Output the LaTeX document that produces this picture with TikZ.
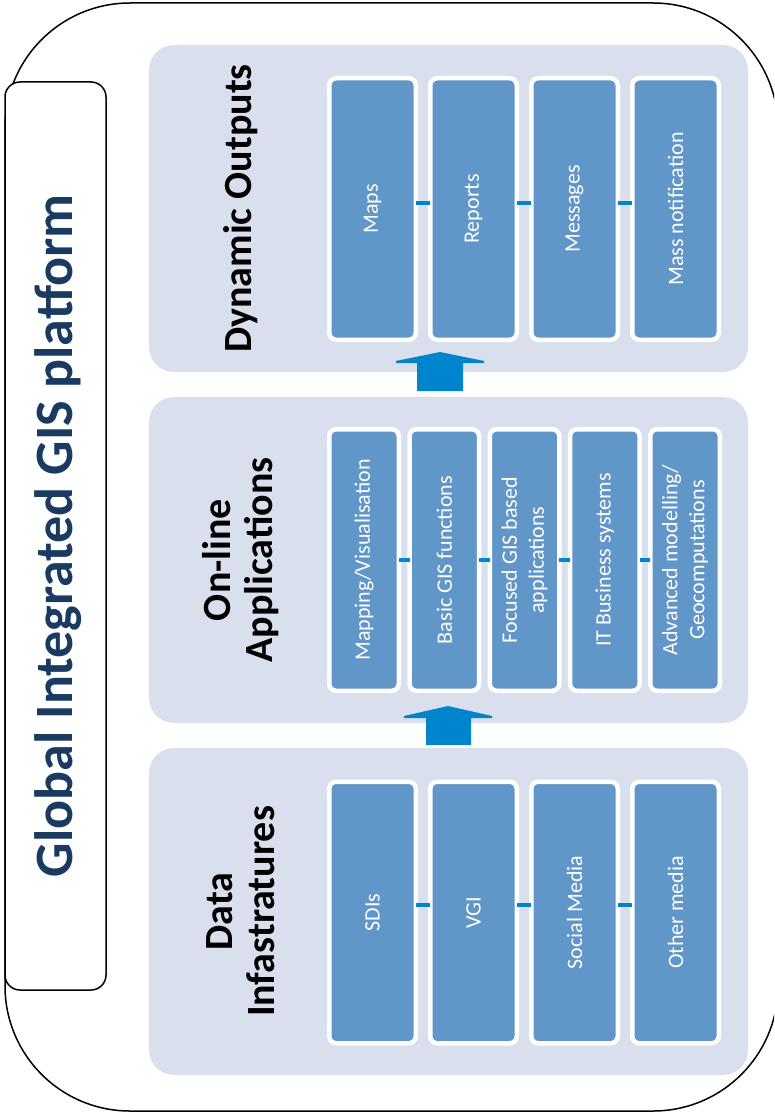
\documentclass[tikz,border=0pt]{standalone}
\usepackage{fontspec}
\setmainfont{Carlito}
\definecolor{panelc}{HTML}{DADFED}
\definecolor{cellc}{HTML}{6196C8}
\definecolor{linkc}{HTML}{0084CC}
\definecolor{titlec}{HTML}{1B3A61}
\begin{document}
\begin{tikzpicture}[x=1pt,y=-1pt,
  panel/.style={fill=panelc, rounded corners=25pt},
  cell/.style={draw=white, line width=4.5pt, fill=cellc, rounded corners=7pt,
    rotate=90, text=white, font=\fontsize{22}{27}\selectfont, align=center,
    inner sep=0pt, outer sep=0pt},
  widecell/.style={cell, minimum width=261.5pt, minimum height=86.5pt},
  narrowcell/.style={cell, minimum width=261.5pt, minimum height=69.5pt},
  link/.style={draw=linkc, line width=3.5pt},
  ptitle/.style={rotate=90, font=\bfseries\fontsize{40}{42}\selectfont, align=center},
  blockarrow/.style={fill=linkc}]
\useasboundingbox (0,0) rectangle (774,1113);

% outer frame, running past the right edge
\begin{scope}
  \clip (0,0) rectangle (774,1113);
  \draw[line width=1.5pt, rounded corners=125pt] (5,3) rectangle (778,1111);
\end{scope}

% title strip
\draw[line width=1.5pt, fill=white, rounded corners=15pt] (5,82) rectangle (106,990);
\node[rotate=90, anchor=base, text=titlec, inner sep=0pt,
  font=\bfseries\fontsize{54}{60}\selectfont] (gtitle) at (72,536)
  {Global Integrated GIS platform};

% layer panels
\fill[panel] (149,45) rectangle (748,372);
\fill[panel] (149,397) rectangle (748,723);
\fill[panel] (149,748) rectangle (748,1075);

\node[ptitle] (tout) at (241,208.5) {Dynamic Outputs};
\node[ptitle] (tapp) at (241,560) {On-line\\Applications};
\node[ptitle] (tdat) at (241,911.5) {Data\\Infastratures};

% upward block arrows between layers
\fill[blockarrow] (417,391) -- (417,363) -- (396,363) -- (396,361) -- (440,352)
  -- (484,361) -- (484,363) -- (463,363) -- (463,391) -- cycle;
\fill[blockarrow] (426,745) -- (426,718) -- (404,718) -- (404,716) -- (448,706)
  -- (492,716) -- (492,718) -- (471,718) -- (471,745) -- cycle;

% dynamic outputs
\node[widecell] (o1) at (372.5,209) {Maps};
\node[widecell] (o2) at (473.5,209) {Reports};
\node[widecell] (o3) at (574.5,209) {Messages};
\node[widecell] (o4) at (675.5,209) {Mass notification};
\foreach \a/\b in {o1/o2,o2/o3,o3/o4}
  \draw[link] ([yshift=6pt]\a.south) -- ([yshift=6pt]\b.north);

% on-line applications
\node[narrowcell] (a1) at (364,560) {Mapping/Visualisation};
\node[narrowcell] (a2) at (444.25,560) {Basic GIS functions};
\node[narrowcell] (a3) at (524.5,560) {Focused GIS based\\applications};
\node[narrowcell] (a4) at (604.75,560) {IT Business systems};
\node[narrowcell] (a5) at (685,560) {Advanced modelling/\\Geocomputations};
\foreach \a/\b in {a1/a2,a2/a3,a3/a4,a4/a5}
  \draw[link] (\a.south) -- (\b.north);

% data infrastructures
\node[widecell] (d1) at (372.5,912.5) {SDIs};
\node[widecell] (d2) at (473.5,912.5) {VGI};
\node[widecell] (d3) at (574.5,912.5) {Social Media};
\node[widecell] (d4) at (675.5,912.5) {Other media};
\foreach \a/\b in {d1/d2,d2/d3,d3/d4}
  \draw[link] ([yshift=7.5pt]\a.south) -- ([yshift=7.5pt]\b.north);
\end{tikzpicture}
\end{document}
